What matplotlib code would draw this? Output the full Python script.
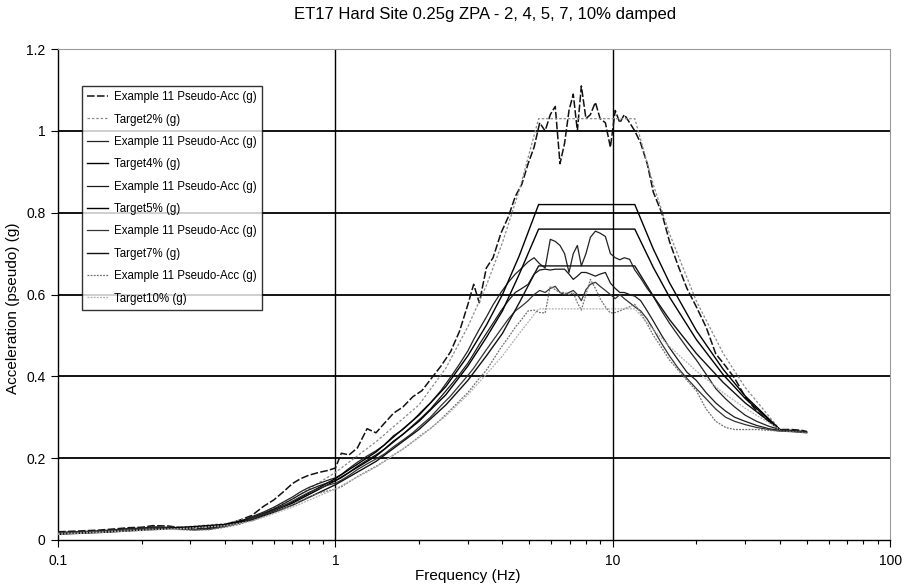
import numpy as np
import matplotlib
matplotlib.use('Agg')
import matplotlib.pyplot as plt
from matplotlib.ticker import FixedLocator, FuncFormatter, NullFormatter

plt.rcParams['font.family'] = ['Liberation Sans', 'DejaVu Sans']

# frequencies of the example spectra (Hz), rows of 10
freq_ex = [0.10, 0.12, 0.14, 0.16, 0.18, 0.20, 0.22, 0.25, 0.28, 0.31,
           0.35, 0.40, 0.45, 0.50, 0.55, 0.60, 0.65, 0.70, 0.75, 0.80,
           0.87, 0.94, 1.00, 1.05, 1.12, 1.20, 1.30, 1.40, 1.50, 1.62,
           1.75, 1.90, 2.05, 2.20, 2.40, 2.60, 2.80, 3.00, 3.15, 3.30,
           3.50, 3.70, 3.95, 4.20, 4.45, 4.70, 4.95, 5.20, 5.45, 5.70,
           5.95, 6.20, 6.45, 6.70, 6.95, 7.20, 7.45, 7.70, 8.00, 8.30,
           8.65, 9.00, 9.40, 9.80, 10.2, 10.6, 11.0, 11.5, 12.0, 12.6,
           13.3, 14.0, 15.0, 16.0, 17.2, 18.5, 20.0, 21.7, 23.5, 25.5,
           27.5, 30.0, 33.0, 36.5, 40.0, 44.0, 48.0, 50.0]

ex_2 = [0.020, 0.022, 0.024, 0.027, 0.030, 0.031, 0.035, 0.034, 0.030, 0.028,
        0.030, 0.038, 0.048, 0.060, 0.082, 0.098, 0.118, 0.138, 0.150, 0.158,
        0.165, 0.170, 0.176, 0.212, 0.208, 0.225, 0.272, 0.262, 0.285, 0.310,
        0.325, 0.350, 0.365, 0.392, 0.425, 0.460, 0.510, 0.575, 0.625, 0.580,
        0.665, 0.690, 0.750, 0.790, 0.840, 0.870, 0.920, 0.960, 1.020, 1.000,
        1.040, 1.060, 0.920, 0.970, 1.050, 1.090, 1.000, 1.110, 1.030, 1.040,
        1.070, 1.030, 1.020, 0.960, 1.050, 1.020, 1.040, 1.020, 1.000, 0.970,
        0.920, 0.850, 0.800, 0.730, 0.670, 0.615, 0.570, 0.520, 0.455, 0.425,
        0.395, 0.350, 0.315, 0.290, 0.270, 0.270, 0.268, 0.265]

ex_4 = [0.018, 0.020, 0.022, 0.025, 0.028, 0.029, 0.032, 0.031, 0.028, 0.026,
        0.028, 0.035, 0.045, 0.057, 0.068, 0.080, 0.093, 0.105, 0.118, 0.128,
        0.138, 0.146, 0.152, 0.160, 0.175, 0.190, 0.205, 0.218, 0.232, 0.255,
        0.270, 0.292, 0.315, 0.335, 0.365, 0.398, 0.430, 0.462, 0.490, 0.515,
        0.545, 0.575, 0.605, 0.630, 0.650, 0.665, 0.680, 0.690, 0.675, 0.665,
        0.735, 0.730, 0.720, 0.700, 0.654, 0.700, 0.720, 0.670, 0.700, 0.740,
        0.755, 0.750, 0.742, 0.700, 0.690, 0.685, 0.690, 0.686, 0.660, 0.640,
        0.615, 0.595, 0.560, 0.530, 0.500, 0.470, 0.440, 0.405, 0.370, 0.345,
        0.325, 0.305, 0.290, 0.278, 0.270, 0.268, 0.266, 0.265]

ex_5 = [0.018, 0.020, 0.022, 0.024, 0.027, 0.028, 0.031, 0.030, 0.027, 0.025,
        0.027, 0.034, 0.043, 0.055, 0.065, 0.076, 0.088, 0.100, 0.112, 0.122,
        0.132, 0.140, 0.145, 0.152, 0.165, 0.180, 0.195, 0.208, 0.222, 0.242,
        0.258, 0.280, 0.300, 0.320, 0.350, 0.378, 0.405, 0.432, 0.455, 0.478,
        0.505, 0.530, 0.560, 0.585, 0.605, 0.615, 0.625, 0.650, 0.660, 0.662,
        0.660, 0.662, 0.662, 0.662, 0.650, 0.637, 0.645, 0.654, 0.654, 0.650,
        0.645, 0.650, 0.654, 0.628, 0.615, 0.605, 0.605, 0.600, 0.596, 0.585,
        0.560, 0.535, 0.500, 0.470, 0.440, 0.410, 0.390, 0.360, 0.335, 0.315,
        0.300, 0.290, 0.280, 0.272, 0.268, 0.266, 0.264, 0.263]

ex_7 = [0.017, 0.019, 0.021, 0.023, 0.026, 0.027, 0.029, 0.029, 0.026, 0.025,
        0.026, 0.033, 0.041, 0.052, 0.062, 0.072, 0.083, 0.095, 0.106, 0.116,
        0.126, 0.134, 0.139, 0.146, 0.158, 0.172, 0.186, 0.198, 0.210, 0.228,
        0.244, 0.262, 0.282, 0.300, 0.328, 0.352, 0.378, 0.402, 0.420, 0.440,
        0.465, 0.488, 0.515, 0.540, 0.560, 0.572, 0.585, 0.600, 0.610, 0.605,
        0.615, 0.620, 0.605, 0.600, 0.605, 0.610, 0.600, 0.585, 0.612, 0.625,
        0.630, 0.620, 0.610, 0.600, 0.590, 0.600, 0.590, 0.580, 0.570, 0.560,
        0.540, 0.515, 0.480, 0.450, 0.420, 0.395, 0.370, 0.345, 0.320, 0.300,
        0.290, 0.282, 0.275, 0.270, 0.266, 0.265, 0.263, 0.262]

ex_10 = [0.016, 0.018, 0.020, 0.022, 0.024, 0.025, 0.027, 0.027, 0.025, 0.024,
         0.025, 0.031, 0.038, 0.048, 0.057, 0.066, 0.076, 0.086, 0.096, 0.105,
         0.114, 0.120, 0.124, 0.130, 0.142, 0.155, 0.168, 0.180, 0.192, 0.208,
         0.222, 0.240, 0.258, 0.272, 0.295, 0.318, 0.340, 0.360, 0.378, 0.395,
         0.415, 0.440, 0.470, 0.495, 0.520, 0.540, 0.560, 0.562, 0.556, 0.555,
         0.620, 0.612, 0.605, 0.605, 0.600, 0.605, 0.580, 0.562, 0.600, 0.637,
         0.615, 0.590, 0.570, 0.555, 0.556, 0.560, 0.565, 0.570, 0.576, 0.555,
         0.528, 0.500, 0.470, 0.440, 0.415, 0.390, 0.365, 0.320, 0.290, 0.275,
         0.270, 0.270, 0.270, 0.268, 0.266, 0.265, 0.263, 0.262]

# target spectra
freq_t = [0.10, 0.15, 0.20, 0.30, 0.40, 0.50, 0.70, 1.00, 1.40, 2.00, 2.50,
          3.00, 3.50, 4.00, 4.60, 5.40, 12.0, 14.0, 16.0, 20.0, 25.0, 30.0, 40.0]
tgt_2 = [0.016, 0.022, 0.027, 0.033, 0.040, 0.055, 0.100, 0.165, 0.240, 0.330, 0.420,
         0.521, 0.622, 0.727, 0.855, 1.030, 1.030, 0.868, 0.749, 0.584, 0.456, 0.373, 0.270]
tgt_4 = [0.015, 0.021, 0.026, 0.032, 0.038, 0.052, 0.093, 0.150, 0.215, 0.305, 0.375,
         0.450, 0.525, 0.600, 0.695, 0.820, 0.820, 0.711, 0.629, 0.512, 0.417, 0.352, 0.270]
tgt_5 = [0.015, 0.020, 0.025, 0.031, 0.037, 0.050, 0.090, 0.145, 0.205, 0.290, 0.355,
         0.425, 0.495, 0.560, 0.650, 0.760, 0.760, 0.666, 0.594, 0.490, 0.404, 0.346, 0.270]
tgt_7 = [0.014, 0.019, 0.024, 0.030, 0.036, 0.048, 0.085, 0.135, 0.192, 0.270, 0.330,
         0.390, 0.450, 0.505, 0.580, 0.670, 0.670, 0.596, 0.539, 0.456, 0.385, 0.335, 0.270]
tgt_10 = [0.014, 0.019, 0.023, 0.029, 0.035, 0.046, 0.080, 0.125, 0.178, 0.250, 0.303,
          0.355, 0.405, 0.450, 0.505, 0.565, 0.565, 0.514, 0.473, 0.413, 0.360, 0.322, 0.270]

ex_label = 'Example 11 Pseudo-Acc (g)'
series = [
    (freq_ex, ex_2, ex_label, '#111111', (0, (5, 1.5)), 1.1),
    (freq_t, tgt_2, 'Target2% (g)', '#8a8a8a', (0, (2, 1.5)), 0.9),
    (freq_ex, ex_4, ex_label, '#222222', '-', 0.9),
    (freq_t, tgt_4, 'Target4% (g)', '#000000', '-', 1.0),
    (freq_ex, ex_5, ex_label, '#1a1a1a', '-', 0.9),
    (freq_t, tgt_5, 'Target5% (g)', '#000000', '-', 1.0),
    (freq_ex, ex_7, ex_label, '#333333', '-', 0.9),
    (freq_t, tgt_7, 'Target7% (g)', '#111111', '-', 1.0),
    (freq_ex, ex_10, ex_label, '#707070', (0, (1.5, 1)), 0.9),
    (freq_t, tgt_10, 'Target10% (g)', '#b0b0b0', (0, (1.5, 1)), 0.9),
]

fig = plt.figure(figsize=(9.14, 5.85), dpi=100)
ax = fig.add_axes([0.0635, 0.077, 0.9105, 0.839])

for yy in [0.2, 0.4, 0.6, 0.8, 1.0]:
    ax.axhline(yy, color='black', lw=1.3, zorder=1)
for xx in [1, 10]:
    ax.axvline(xx, color='black', lw=1.0, zorder=1)

for fx, vals, lab, col, ls, lw in series:
    ax.plot(fx, vals, color=col, linestyle=ls, lw=lw, label=lab, zorder=3)

ax.set_xscale('log')
ax.set_xlim(0.1, 100)
ax.set_ylim(0, 1.2)

ax.xaxis.set_major_locator(FixedLocator([0.1, 1, 10, 100]))
ax.xaxis.set_major_formatter(FuncFormatter(lambda v, p: {0.1: '0.1', 1: '1', 10: '10', 100: '100'}.get(round(v, 1), '')))
ax.xaxis.set_minor_formatter(NullFormatter())
ax.set_yticks([0, 0.2, 0.4, 0.6, 0.8, 1.0, 1.2])
ax.set_yticklabels(['0', '0.2', '0.4', '0.6', '0.8', '1', '1.2'])
ax.tick_params(axis='both', which='major', direction='out', length=5, width=0.8, labelsize=10)
ax.tick_params(axis='x', which='major', pad=5)
ax.tick_params(axis='y', which='major', pad=4)
ax.tick_params(axis='x', which='minor', direction='out', length=3, width=0.8)

for s in ['top', 'right']:
    ax.spines[s].set_color('#9a9a9a')
    ax.spines[s].set_linestyle((0, (1, 1)))
    ax.spines[s].set_linewidth(0.8)
ax.spines['left'].set_linewidth(1.0)
ax.spines['bottom'].set_linewidth(1.0)

fig.text(485 / 914, 1 - 15 / 585, 'ET17 Hard Site 0.25g ZPA - 2, 4, 5, 7, 10% damped',
         fontsize=12, ha='center', va='center')
fig.text(468 / 914, 1 - 576 / 585, 'Frequency (Hz)', fontsize=11, ha='center', va='center')
fig.text(13 / 914, 1 - 308 / 585, 'Acceleration (pseudo) (g)', fontsize=11,
         ha='center', va='center', rotation=90)

leg = ax.legend(loc='upper left', bbox_to_anchor=(0.029, 0.925), fontsize=8.3,
                frameon=True, fancybox=False, edgecolor='black', handlelength=1.8,
                labelspacing=0.9, borderpad=0.45, handletextpad=0.5, borderaxespad=0.0)
leg.get_frame().set_linewidth(1.0)

fig.savefig('out.png', dpi=100)
